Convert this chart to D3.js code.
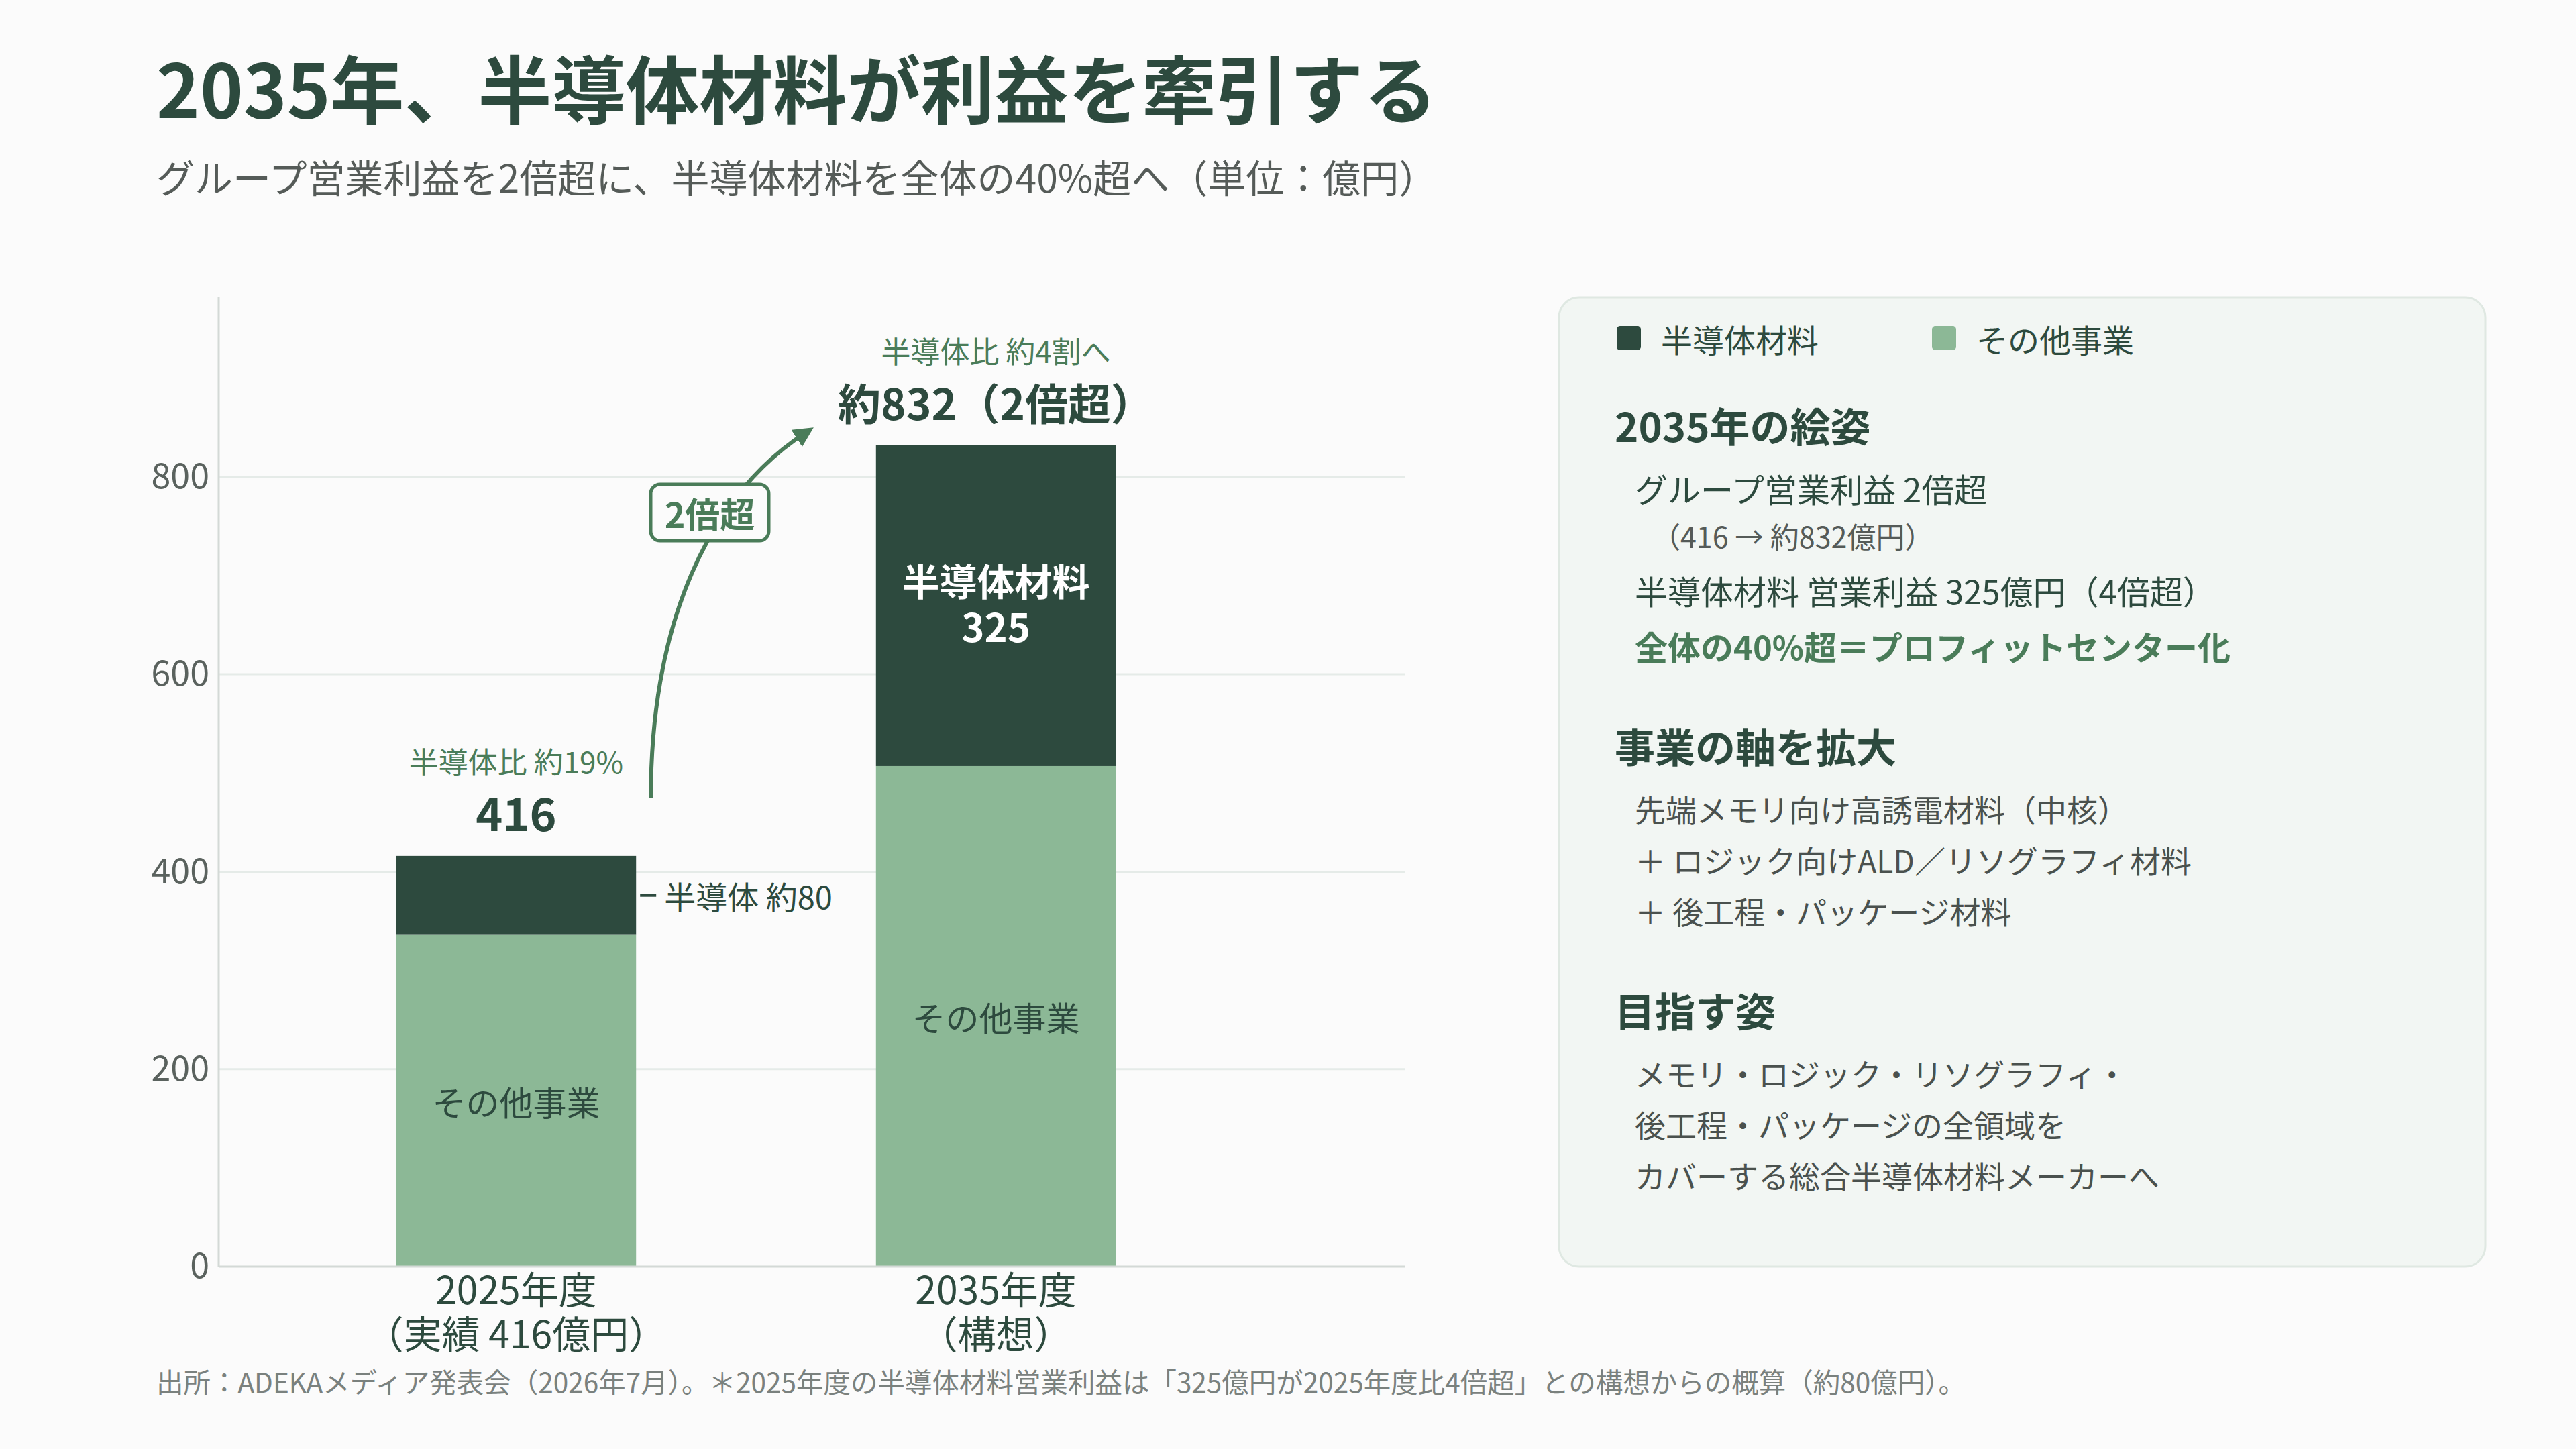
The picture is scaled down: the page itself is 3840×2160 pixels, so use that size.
<!DOCTYPE html>
<meta charset="utf-8">
<style>
body { margin: 0; background: #fbfbfb; }
svg { display: block; font-family: "Noto Sans CJK JP", "Noto Sans", sans-serif; }
</style>
<body>
<svg id="chart" width="3840" height="2160"></svg>
</body>
<script src="https://d3js.org/d3.v7.min.js"></script>
<script>
// data
var years = ["2025年度", "2035年度"];
var yearSub = ["（実績 416億円）", "（構想）"];
var semi = [80, 325];
var other = [336, 507];
var totalLabels = ["416", "約832（2倍超）"];
var shareLabels = ["半導体比 約19%", "半導体比 約4割へ"];
var yTicks = [0, 200, 400, 600, 800];
var yMax = 982;

var dark = "#2d4a3e", light = "#8cb896", accent = "#4a7c59";

var svg = d3.select("#chart");

// titles
svg.append("text").attr("x", 233).attr("y", 128).attr("dominant-baseline", "central")
  .attr("font-size", 110).attr("font-weight", 700).attr("fill", dark)
  .text("2035年、半導体材料が利益を牽引する");
svg.append("text").attr("x", 233).attr("y", 262).attr("dominant-baseline", "central")
  .attr("font-size", 57).attr("fill", "#555b58")
  .text("グループ営業利益を2倍超に、半導体材料を全体の40%超へ（単位：億円）");

// scales
var y = d3.scaleLinear().domain([0, yMax]).range([1888, 443]);
var x = d3.scaleBand().domain(years).range([326, 1928]).paddingInner(0.5).paddingOuter(0.37);
var plotRight = 2094;

// grid
svg.append("g").selectAll("line").data(yTicks.slice(1)).enter().append("line")
  .attr("x1", 326).attr("x2", plotRight)
  .attr("y1", function(d) { return y(d); }).attr("y2", function(d) { return y(d); })
  .attr("stroke", "#e5ebe8").attr("stroke-width", 3);

// y axis labels
var yAxis = svg.append("g").attr("transform", "translate(326,0)")
  .call(d3.axisLeft(y).tickValues(yTicks).tickSize(0).tickPadding(14));
yAxis.select(".domain").remove();
yAxis.selectAll("text").attr("font-size", 52).attr("fill", "#5a625e")
  .attr("font-family", "\"Noto Sans CJK JP\", sans-serif");

// bars
var rows = years.map(function(d, i) { return { year: d, other: other[i], semi: semi[i] }; });
var stack = d3.stack().keys(["other", "semi"])(rows);
var colors = { other: light, semi: dark };
svg.append("g").selectAll("g").data(stack).enter().append("g")
  .attr("fill", function(s) { return colors[s.key]; })
  .selectAll("rect").data(function(s) { return s; }).enter().append("rect")
  .attr("x", function(d) { return x(d.data.year); })
  .attr("width", x.bandwidth())
  .attr("y", function(d) { return y(d[1]); })
  .attr("height", function(d) { return y(d[0]) - y(d[1]); });

// axes lines
svg.append("line").attr("x1", 326).attr("x2", 326).attr("y1", 443).attr("y2", 1888)
  .attr("stroke", "#d3d9d6").attr("stroke-width", 3);
svg.append("line").attr("x1", 326).attr("x2", plotRight).attr("y1", 1888).attr("y2", 1888)
  .attr("stroke", "#d3d9d6").attr("stroke-width", 3);

// bar labels
years.forEach(function(yr, i) {
  var cx = x(yr) + x.bandwidth() / 2;
  var top = y(semi[i] + other[i]);
  svg.append("text").attr("x", cx).attr("y", top - 142).attr("text-anchor", "middle")
    .attr("dominant-baseline", "central").attr("font-size", 44).attr("fill", accent)
    .text(shareLabels[i]);
  svg.append("text").attr("x", cx).attr("y", top - 66).attr("text-anchor", "middle")
    .attr("dominant-baseline", "central").attr("font-size", i ? 64 : 68).attr("font-weight", 700)
    .attr("fill", dark).text(totalLabels[i]);
  svg.append("text").attr("x", cx).attr("y", y(other[i] / 2)).attr("text-anchor", "middle")
    .attr("dominant-baseline", "central").attr("font-size", 50).attr("fill", dark)
    .text("その他事業");
  // two-line category label
  var cat = svg.append("text").attr("text-anchor", "middle")
    .attr("font-size", 57).attr("fill", dark);
  cat.append("tspan").attr("x", cx).attr("y", 1944).text(yr);
  cat.append("tspan").attr("x", cx).attr("dy", 66).text(yearSub[i]);
});

// 2035 semiconductor label inside bar
var c2 = x(years[1]) + x.bandwidth() / 2;
var m2 = y(other[1] + semi[1] / 2);
var inLabel = svg.append("text").attr("text-anchor", "middle")
  .attr("font-weight", 700).attr("fill", "#fff");
inLabel.append("tspan").attr("x", c2).attr("y", m2 - 15).attr("font-size", 56).text("半導体材料");
inLabel.append("tspan").attr("x", c2).attr("dy", 69).attr("font-size", 58).text(semi[1]);

// 2025 semiconductor callout
var r1 = x(years[0]) + x.bandwidth();
var m1 = y(other[0] + semi[0] / 2);
svg.append("line").attr("x1", r1 + 6).attr("x2", r1 + 30).attr("y1", m1).attr("y2", m1)
  .attr("stroke", dark).attr("stroke-width", 4);
svg.append("text").attr("x", r1 + 42).attr("y", m1).attr("dominant-baseline", "central")
  .attr("font-size", 47).attr("fill", dark).text("半導体 約" + semi[0]);

// growth arrow
svg.append("defs").append("marker").attr("id", "head")
  .attr("viewBox", "0 0 10 10").attr("refX", 6).attr("refY", 5)
  .attr("markerWidth", 5).attr("markerHeight", 5).attr("orient", "auto")
  .append("path").attr("d", "M0,0 L10,5 L0,10 Z").attr("fill", accent);
var t0 = [r1 + 22, y(semi[0] + other[0]) - 86];
var t1 = [x(years[1]) - 103, y(semi[1] + other[1]) - 20];
var p = d3.path();
p.moveTo(t0[0], t0[1]);
p.bezierCurveTo(t0[0], t0[1] - 260, t0[0] + 85, t1[1] + 95, t1[0], t1[1]);
svg.append("path").attr("d", p.toString()).attr("fill", "none")
  .attr("stroke", accent).attr("stroke-width", 6).attr("marker-end", "url(#head)");
var bx = 1058, by = 764;
svg.append("rect").attr("x", bx - 88).attr("y", by - 42).attr("width", 176).attr("height", 84)
  .attr("rx", 14).attr("fill", "#fbfbfb").attr("stroke", accent).attr("stroke-width", 5);
svg.append("text").attr("x", bx).attr("y", by).attr("text-anchor", "middle")
  .attr("dominant-baseline", "central").attr("font-size", 52).attr("font-weight", 700)
  .attr("fill", accent).text("2倍超");

// right panel
var panel = svg.append("g");
panel.append("rect").attr("x", 2324).attr("y", 443).attr("width", 1381).attr("height", 1445)
  .attr("rx", 30).attr("fill", "#f2f6f3").attr("stroke", "#dfe8e2").attr("stroke-width", 3);

var legend = [{ name: "半導体材料", color: dark, x: 2410 }, { name: "その他事業", color: light, x: 2880 }];
legend.forEach(function(l) {
  panel.append("rect").attr("x", l.x).attr("y", 486).attr("width", 36).attr("height", 36)
    .attr("rx", 5).attr("fill", l.color);
  panel.append("text").attr("x", l.x + 66).attr("y", 504).attr("dominant-baseline", "central")
    .attr("font-size", 47).attr("fill", dark).text(l.name);
});

var heads = [
  { text: "2035年の絵姿", y: 632 },
  { text: "事業の軸を拡大", y: 1110 },
  { text: "目指す姿", y: 1504 }
];
heads.forEach(function(h) {
  panel.append("text").attr("x", 2407).attr("y", h.y).attr("dominant-baseline", "central")
    .attr("font-size", 60).attr("font-weight", 700).attr("fill", dark).text(h.text);
});

var lines = [
  { text: "グループ営業利益 2倍超", y: 727, x: 2437, size: 49, color: dark },
  { text: "（416 → 約832億円）", y: 798, x: 2462, size: 43, color: "#555b58" },
  { text: "半導体材料 営業利益 325億円（4倍超）", y: 879, x: 2437, size: 49, color: dark },
  { text: "全体の40%超＝プロフィットセンター化", y: 962, x: 2437, size: 49, color: accent, bold: true },
  { text: "先端メモリ向け高誘電材料（中核）", y: 1205, x: 2437, size: 46, color: "#4a514e" },
  { text: "＋ ロジック向けALD／リソグラフィ材料", y: 1281, x: 2437, size: 46, color: "#4a514e" },
  { text: "＋ 後工程・パッケージ材料", y: 1357, x: 2437, size: 46, color: "#4a514e" },
  { text: "メモリ・ロジック・リソグラフィ・", y: 1599, x: 2437, size: 46, color: "#4a514e" },
  { text: "後工程・パッケージの全領域を", y: 1675, x: 2437, size: 46, color: "#4a514e" },
  { text: "カバーする総合半導体材料メーカーへ", y: 1751, x: 2437, size: 46, color: "#4a514e" }
];
lines.forEach(function(l) {
  panel.append("text").attr("x", l.x).attr("y", l.y).attr("dominant-baseline", "central")
    .attr("font-size", l.size).attr("font-weight", l.bold ? 700 : 400)
    .attr("fill", l.color).text(l.text);
});

// footer
svg.append("text").attr("x", 233).attr("y", 2058).attr("dominant-baseline", "central")
  .attr("font-size", 40.5).attr("fill", "#7a817e")
  .text("出所：ADEKAメディア発表会（2026年7月）。＊2025年度の半導体材料営業利益は「325億円が2025年度比4倍超」との構想からの概算（約80億円）。");
</script>
